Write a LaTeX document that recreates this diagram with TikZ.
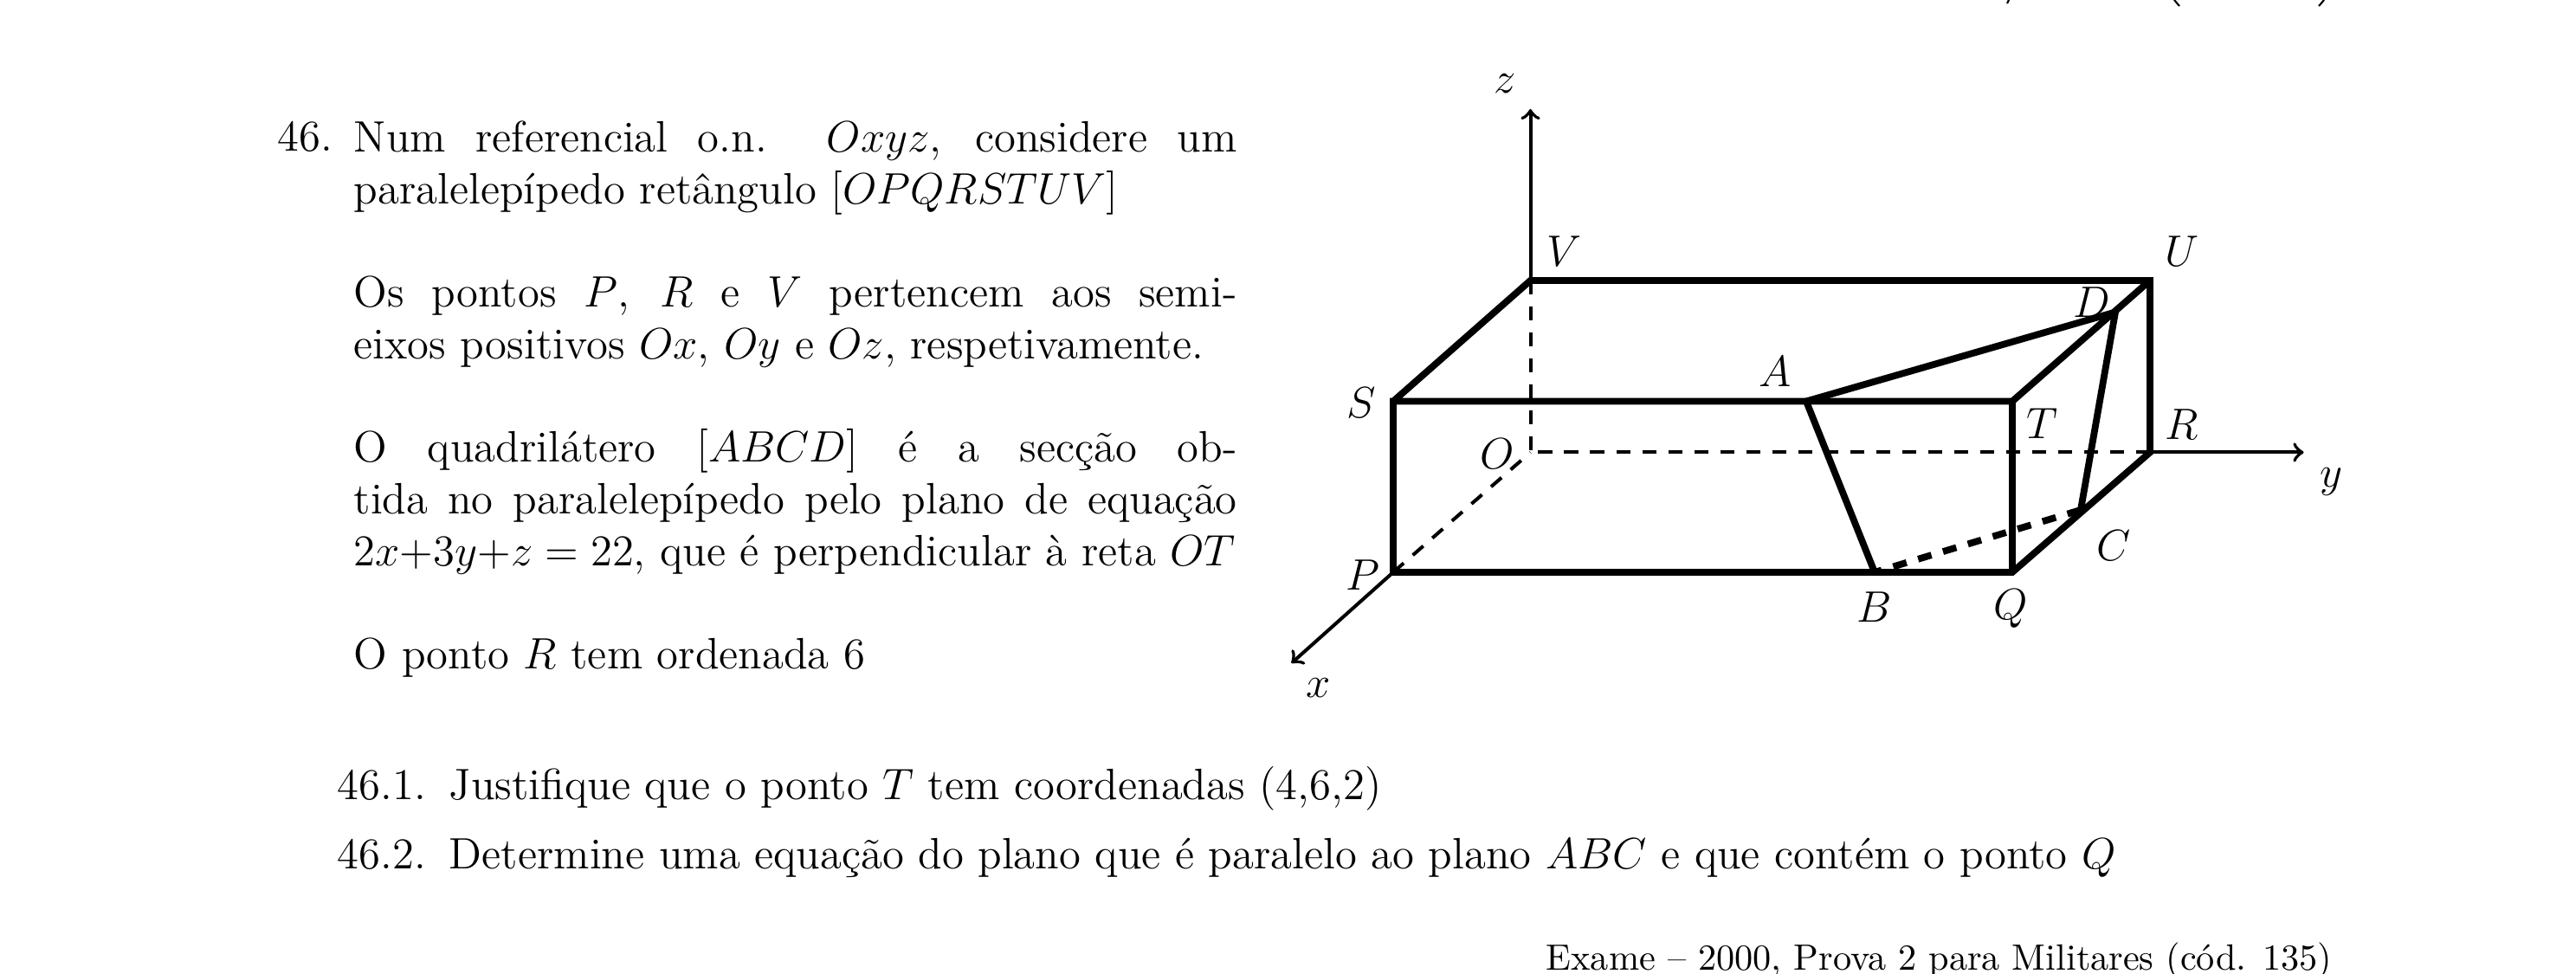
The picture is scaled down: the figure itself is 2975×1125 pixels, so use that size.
\documentclass[tikz,border=0pt]{standalone}
\usetikzlibrary{positioning}
\tikzset{
  aresta/.style={line width=1.85pt},
  oculta/.style={line width=0.95pt,dash pattern=on 3.8pt off 3.3pt},
  seccao/.style={line width=1.85pt,dash pattern=on 3.8pt off 3.3pt},
  eixo/.style={line width=0.95pt,->},
  rotulo/.style={inner sep=0pt,font=\large},
  texto/.style={inner sep=0pt,anchor=base west,font=\large},
  resto/.style={line width=0.5pt}
}
\begin{document}
\begin{tikzpicture}[x=0.2365pt,y=-0.2365pt]
\useasboundingbox (0,0) rectangle (2975,1125);
% vertices
\coordinate (O) at (1767.5,522.5);
\coordinate (P) at (1609,661);
\coordinate (Q) at (2324,661);
\coordinate (R) at (2483,522.5);
\coordinate (S) at (1609,463.5);
\coordinate (T) at (2324,463.5);
\coordinate (U) at (2483,324);
\coordinate (V) at (1767.5,324);
\coordinate (A) at (2086,463.5);
\coordinate (B) at (2165,661);
\coordinate (C) at (2403,589);
\coordinate (D) at (2443,360.5);
\coordinate (xtip) at (1491.5,766);
\coordinate (ytip) at (2660.5,522.5);
\coordinate (ztip) at (1767.5,126);
% eixos
\draw[eixo] (V) -- (ztip);
\draw[eixo] (R) -- (ytip);
\draw[eixo] (P) -- (xtip);
\draw[oculta] (V) -- (O);
\draw[oculta] (R) -- (O);
\draw[oculta] (P) -- (O);
% paralelepipedo
\draw[aresta] (S) -- (V) -- (U) -- (R) -- (Q) -- (P) -- (S) -- (T) -- (Q);
\draw[aresta] (T) -- (U);
% seccao
\draw[aresta] (B) -- (A) -- (D) -- (C);
\draw[seccao] (C) -- (B);
% rotulos
\node[rotulo] (lz) at (1738,96.5) {$z$};
\node[rotulo] (lV) at (1806.5,290) {$V$};
\node[rotulo] (lU) at (2519.5,290) {$U$};
\node[rotulo] (lD) at (2416,349.6) {$D$};
\node[rotulo] (lA) at (2050,429) {$A$};
\node[rotulo] (lS) at (1572,465) {$S$};
\node[rotulo] (lT) at (2358.6,489) {$T$};
\node[rotulo] (lR) at (2519.5,490.5) {$R$};
\node[rotulo] (lO) at (1729.4,524.6) {$O$};
\node[rotulo] (ly) at (2693,557) {$y$};
\node[rotulo] (lC) at (2441.5,630) {$C$};
\node[rotulo] (lP) at (1574,664) {$P$};
\node[rotulo] (lB) at (2164.6,701) {$B$};
\node[rotulo] (lQ) at (2322,703) {$Q$};
\node[rotulo] (lx) at (1523,795) {$x$};
% enunciado
\node[texto] (num) at (320,175) {46.};
\node[inner sep=0pt,anchor=north west,text width=241.2pt,align=justify,font=\fontsize{12}{14.12}\selectfont] (enunciado) at (408,139) {%
Num referencial o.n.\ \ $Oxyz$, considere um\linebreak
paralelep\'ipedo ret\^angulo $[OPQRSTUV]$\\[\baselineskip]
Os pontos $P$, $R$ e $V$ pertencem aos semi-\linebreak
eixos positivos $Ox$, $Oy$ e $Oz$, respetivamente.\\[\baselineskip]
O quadril\'atero $[ABCD]$ \'e a sec\c{c}\~ao ob-\linebreak
tida no paralelep\'ipedo pelo plano de equa\c{c}\~ao\linebreak
$2x{+}3y{+}z=22$, que \'e perpendicular \`a reta $OT$\\[\baselineskip]
O ponto $R$ tem ordenada 6};
\node[texto] (n1) at (389,924) {46.1.};
\node[texto] (t1) at (518,924) {Justifique que o ponto $T$ tem coordenadas (4,6,2)};
\node[texto] (n2) at (389,1003.5) {46.2.};
\node[texto] (t2) at (518,1003.5) {Determine uma equa\c{c}\~ao do plano que \'e paralelo ao plano $ABC$ e que cont\'em o ponto $Q$};
\node[inner sep=0pt,anchor=base east] (fonte) at (2694,1121) {Exame -- 2000, Prova 2 para Militares (c\'od. 135)};
% restos do cabecalho cortado na margem
\draw[resto] (2320,0) -- (2318,4);
\draw[resto] (2511,0) -- (2517,7);
\draw[resto] (2684,0) -- (2678,7);
\end{tikzpicture}
\end{document}
